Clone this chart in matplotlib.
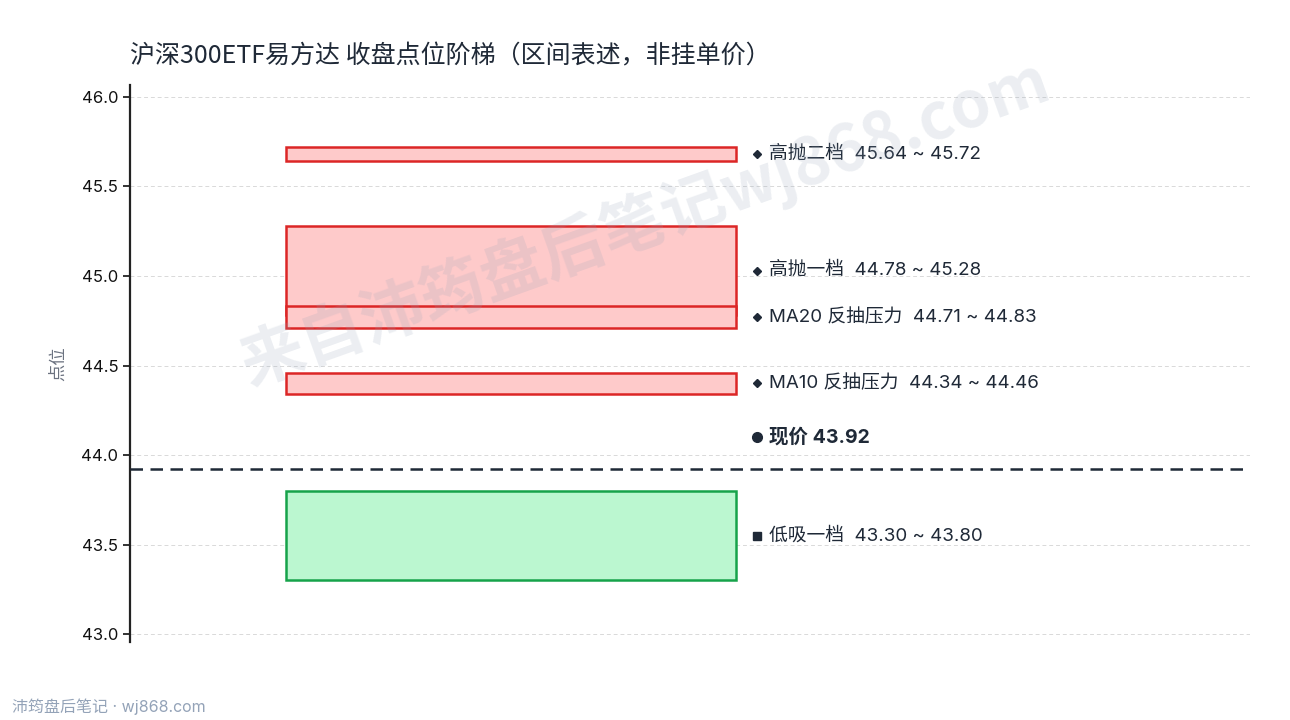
import matplotlib
matplotlib.use("Agg")
import matplotlib.pyplot as plt

plt.rcParams['font.family'] = ['Noto Sans CJK SC', 'DejaVu Sans']

# ---- data ----
zone_names = ['高抛二档', '高抛一档', 'MA20 反抽压力', 'MA10 反抽压力', '低吸一档']
zone_low = [45.64, 44.78, 44.71, 44.34, 43.30]
zone_high = [45.72, 45.28, 44.83, 44.46, 43.80]
zone_kind = ['sell', 'sell', 'sell', 'sell', 'buy']
zone_mark = ['D', 'D', 'D', 'D', 's']
current_price = 43.92
y_ticks = [43.0, 43.5, 44.0, 44.5, 45.0, 45.5, 46.0]

title = '沪深300ETF易方达 收盘点位阶梯（区间表述，非挂单价）'
LAT = ['Inter', 'Noto Sans CJK SC']

fig = plt.figure(figsize=(12.9, 7.2), dpi=100)
ax = fig.add_axes([0.1008, 0.108, 0.868, 0.774])

styles = {
    'sell': dict(face='#fecaca', edge='#dc2626'),
    'buy': dict(face='#bbf7d0', edge='#16a34a'),
}
msize = {'D': 4.2, 's': 6.0, 'o': 7.0}

bar_x0, bar_x1 = 0.139, 0.541
mark_x, text_x = 0.5598, 0.5705
for name, lo, hi, kind, mk in zip(zone_names, zone_low, zone_high, zone_kind, zone_mark):
    st = styles[kind]
    ax.bar((bar_x0 + bar_x1) / 2, hi - lo, bottom=lo, width=bar_x1 - bar_x0,
           color=st['face'], edgecolor=st['edge'], linewidth=1.8, zorder=3)
    ym = (lo + hi) / 2
    ax.plot([mark_x], [ym], marker=mk, markersize=msize[mk], color='#1f2937',
            linestyle='none', zorder=5, clip_on=False)
    ax.text(text_x, ym, f'{name}  {lo:.2f} ~ {hi:.2f}', family=LAT,
            fontsize=13.5, color='#1f2937', va='center', ha='left', zorder=5)

ax.axhline(current_price, color='#1f2937', linestyle=(0, (5, 3)), linewidth=1.8, zorder=4)
ax.plot([mark_x], [current_price + 0.18], marker='o', markersize=msize['o'],
        color='#1f2937', linestyle='none', zorder=5)
ax.text(text_x, current_price + 0.18, f'现价 {current_price:.2f}', family=LAT,
        fontsize=14, fontweight='bold', color='#1f2937', va='center', ha='left', zorder=5)

ax.set_xlim(0, 1)
ax.set_ylim(42.955, 46.067)
ax.set_yticks(y_ticks)
ax.set_yticklabels([f'{v:.1f}' for v in y_ticks], family=LAT)
ax.set_xticks([])
ax.tick_params(axis='y', labelsize=12, colors='#111111', length=5, width=1.2)
ax.grid(axis='y', color='#d9d9d9', linestyle=(0, (4, 3)), linewidth=0.7, zorder=0)
ax.set_axisbelow(True)
for s in ['top', 'right', 'bottom']:
    ax.spines[s].set_visible(False)
ax.spines['left'].set_color('#222222')
ax.spines['left'].set_linewidth(1.6)
ax.set_ylabel('点位', fontsize=12.5, color='#6b7280', labelpad=10)

fig.text(0.1008, 0.922, title, fontsize=18, color='#1f2937', ha='left', va='center')
fig.text(0.009, 0.018, '沛筠盘后笔记 · wj868.com', family=LAT, fontsize=11.5,
         color='#94a3b8', ha='left', va='center')

fig.text(0.5, 0.69, '来自沛筠盘后笔记wj868.com', fontsize=46, fontweight='bold',
         color='#94a3b8', alpha=0.18, rotation=19.7, ha='center', va='center',
         rotation_mode='anchor', zorder=10)

fig.savefig('out.png', dpi=100, facecolor='white')
